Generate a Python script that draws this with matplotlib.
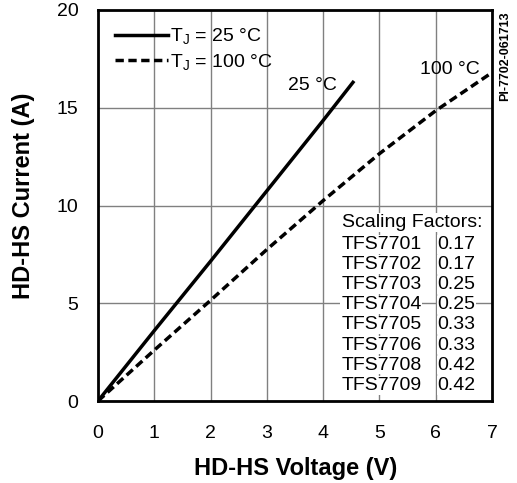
import matplotlib
matplotlib.use("Agg")
import matplotlib.pyplot as plt

plt.rcParams['font.family'] = ['Liberation Sans', 'DejaVu Sans']
plt.rcParams['mathtext.fontset'] = 'custom'
plt.rcParams['mathtext.rm'] = 'Liberation Sans'

# datos
v_25 = [0, 1, 2, 3, 4, 4.53]
i_25 = [0, 3.6, 7.15, 10.75, 14.35, 16.3]
v_100 = [0, 1, 2, 3, 4, 5, 6, 7]
i_100 = [0, 2.6, 5.15, 7.75, 10.25, 12.65, 14.85, 16.8]

dispositivos = ["TFS7701", "TFS7702", "TFS7703", "TFS7704",
                "TFS7705", "TFS7706", "TFS7708", "TFS7709"]
factores = ["0.17", "0.17", "0.25", "0.25", "0.33", "0.33", "0.42", "0.42"]

W, H = 517, 483
fig = plt.figure(figsize=(W / 100, H / 100), dpi=100)
ax = fig.add_axes([98 / W, 1 - 401 / H, 394 / W, 391 / H])

ax.plot(v_25, i_25, color='black', lw=2.5, label=r'T$_\mathregular{J}$ = 25 °C', zorder=3)
ax.plot(v_100, i_100, color='black', lw=2.5, ls=(0, (2.4, 1.3)),
        label=r'T$_\mathregular{J}$ = 100 °C', zorder=3)

ax.set_xlim(0, 7)
ax.set_ylim(0, 20)
ax.set_xticks(range(0, 8))
ax.set_yticks([0, 5, 10, 15, 20])
ax.grid(True, color='#808080', lw=1)
ax.tick_params(length=0, labelsize=14)
ax.tick_params(axis='x', pad=17)
ax.tick_params(axis='y', pad=14)
for s in ax.spines.values():
    s.set_linewidth(2)

# titulos de ejes
fig.text(295.5 / W, 1 - 475.5 / H, 'HD-HS Voltage (V)', fontsize=17, fontweight='bold',
         ha='center', va='baseline')
fig.text(30 / W, 1 - 196 / H, 'HD-HS Current (A)', fontsize=17, fontweight='bold',
         rotation=90, rotation_mode='anchor', ha='center', va='baseline')

leg = ax.legend(loc='upper left', frameon=False, fontsize=14, handlelength=2.7,
                borderaxespad=0.58, borderpad=0.3, labelspacing=0.25, handletextpad=0.1)

ax.text(3.376, 15.9, '25 °C', fontsize=14, ha='left', va='baseline')
ax.text(5.72, 16.73, '100 °C', fontsize=14, ha='left', va='baseline')

# tabla de factores de escala
ax.text(4.33, 8.90, 'Scaling Factors:', fontsize=14, ha='left', va='baseline',
        bbox=dict(facecolor='white', edgecolor='none', pad=1))
y0 = 7.77
paso = 1.028
for k, (d, f) in enumerate(zip(dispositivos, factores)):
    y = y0 - k * paso
    ax.text(4.32, y, d, fontsize=14, ha='left', va='baseline',
            bbox=dict(facecolor='white', edgecolor='none', pad=0.5))
    ax.text(6.03, y, f, fontsize=14, ha='left', va='baseline',
            bbox=dict(facecolor='white', edgecolor='none', pad=0.5))

fig.text(505 / W, 1 - 56 / H, 'PI-7702-061713', fontsize=9, fontweight='bold',
         rotation=90, ha='center', va='center')

fig.savefig('out.png', dpi=100)
